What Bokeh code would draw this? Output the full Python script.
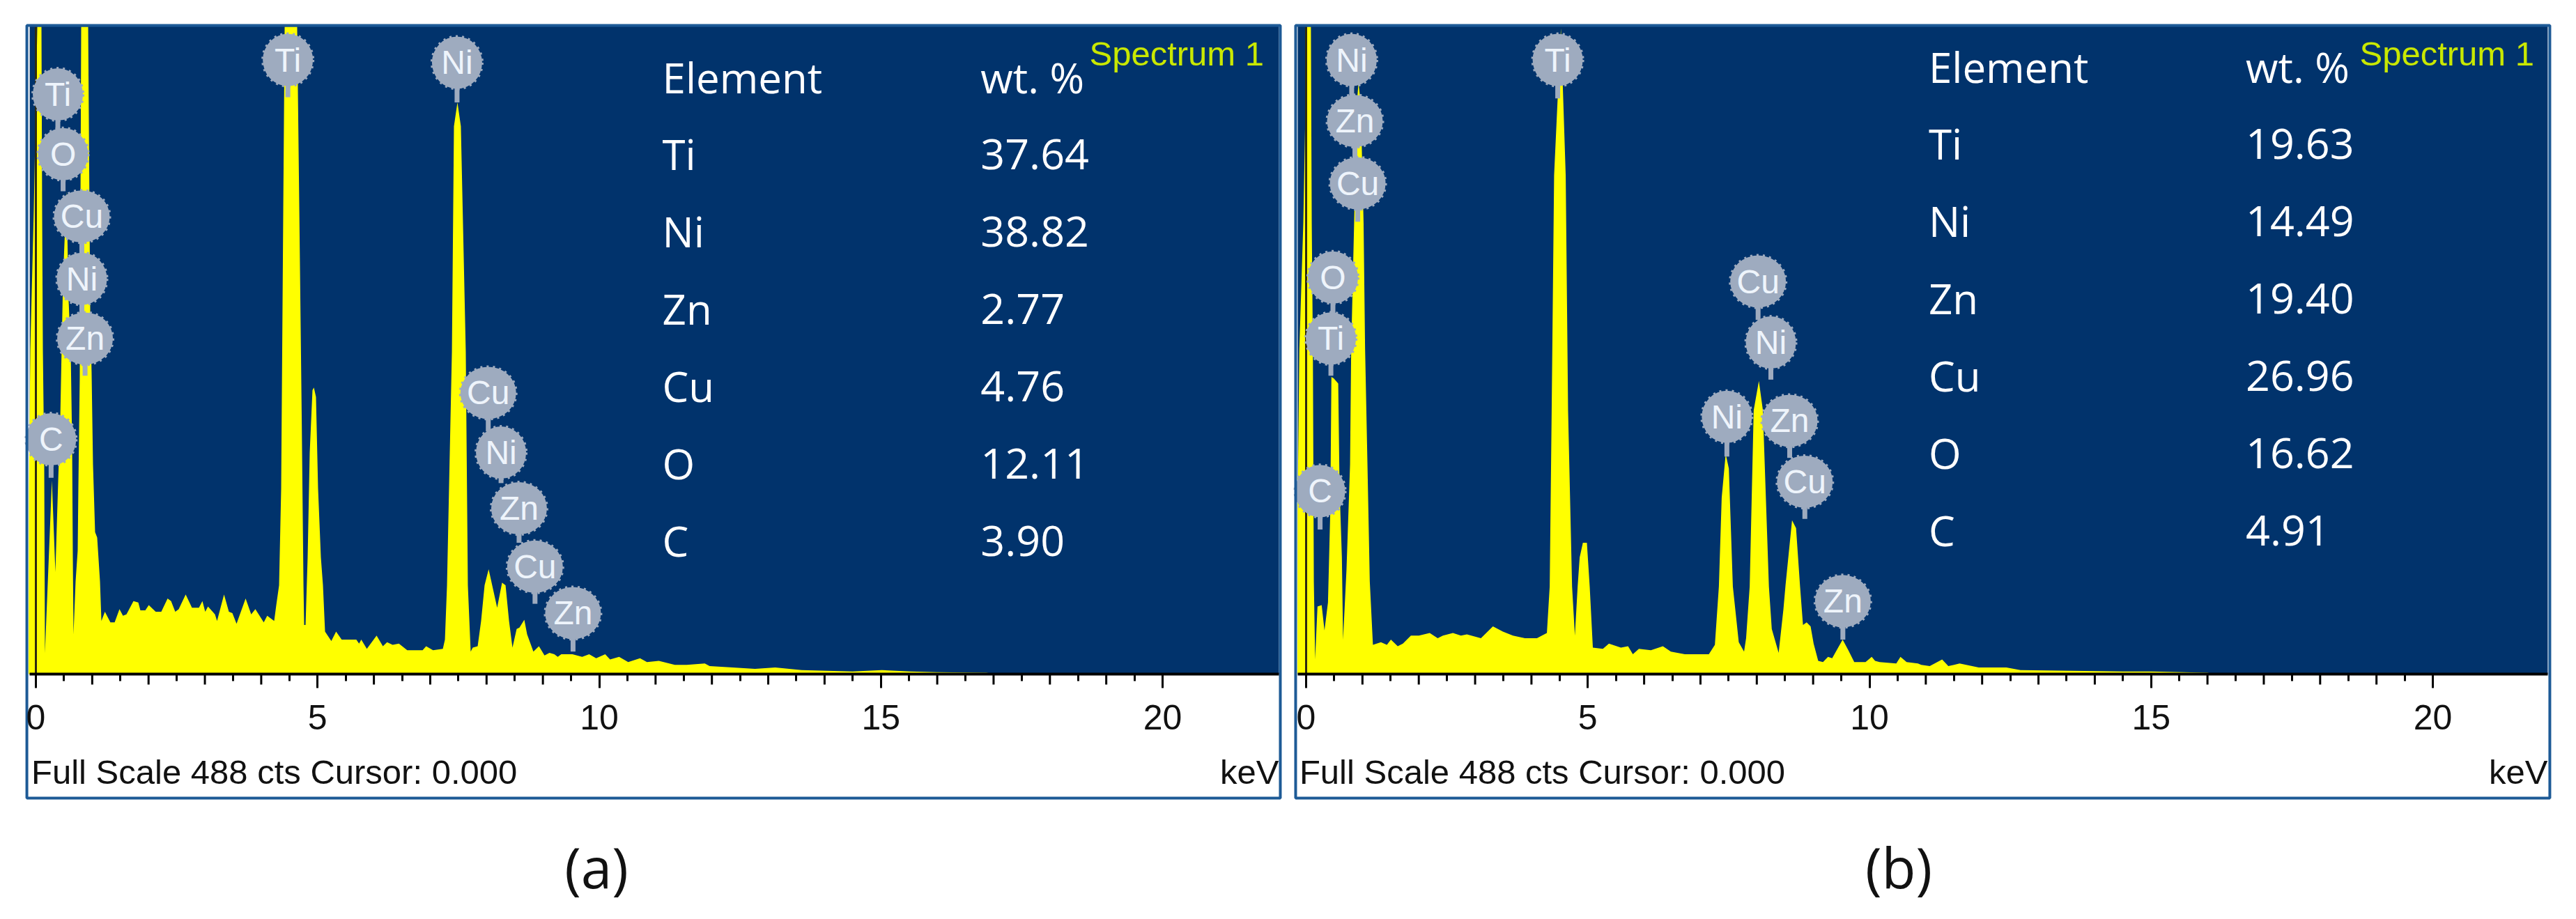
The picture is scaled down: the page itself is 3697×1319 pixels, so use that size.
from bokeh.plotting import figure
from bokeh.layouts import row
from bokeh.models import Range1d, LinearAxis, FixedTicker
from bokeh.core.properties import value
from bokeh.embed import file_html
from bokeh.resources import INLINE

# ---- data: spectrum (a)
A_KEV = [-0.13,-0.124,-0.099,-0.037,0.025,0.062,0.099,0.111,0.124,0.148,0.161,0.284,0.346,0.396,0.433,0.457,0.482,0.544,0.581,0.618,0.643,0.656,0.668,0.705,0.742,0.754,0.779,0.804,0.866,0.928,0.965,0.989,1.014,1.051,1.088,1.138,1.163,1.225,1.323,1.398,1.484,1.546,1.608,1.732,1.818,1.855,1.942,2.004,2.127,2.226,2.338,2.400,2.474,2.536,2.659,2.771,2.894,2.956,3.006,3.055,3.179,3.216,3.340,3.426,3.488,3.562,3.723,3.822,3.896,4.045,4.106,4.230,4.267,4.317,4.354,4.391,4.416,4.527,4.638,4.719,4.750,4.762,4.787,4.824,4.861,4.910,4.935,4.972,5.009,5.059,5.096,5.133,5.244,5.329,5.428,5.688,5.737,5.776,5.875,6.048,6.160,6.234,6.333,6.444,6.592,6.865,6.927,7.050,7.224,7.261,7.298,7.360,7.385,7.421,7.483,7.544,7.631,7.668,7.718,7.755,7.842,7.903,7.965,8.037,8.188,8.275,8.337,8.399,8.460,8.534,8.584,8.670,8.720,8.831,8.930,9.029,9.116,9.203,9.264,9.326,9.524,9.697,9.821,9.945,10.106,10.192,10.353,10.514,10.724,10.848,11.058,11.342,11.553,11.874,11.961,12.369,12.765,13.124,13.594,14.497,15.016,15.523,15.994,16.871,17.03,22.04]
A_CTS = [0,140,245,350,488,560,488,350,245,158,16,146,77,146,193,245,298,364,282,245,175,88,30,70,93,140,224,488,560,488,272,228,158,107,103,70,40,47,39,39,49,44,45,55,54,48,48,52,47,47,57,55,47,49,60,50,50,55,47,51,45,40,60,47,46,38,57,45,49,39,44,40,52,67,140,350,488,560,488,193,67,37,37,88,167,214,216,209,140,88,67,32,25,32,26,26,23,26,19,29,21,24,22,23,18,18,21,18,19,26,67,193,243,413,431,413,243,67,17,20,21,40,67,79,50,69,67,40,20,34,35,41,30,17,21,14,16,15,13,15,15,13,15,12,15,11,13,9,12,9,10,7,7,8,6,5,4,5,3,2,3,2,1.5,1,0,0]

# ---- data: spectrum (b)
B_KEV = [-0.155,-0.15,-0.12,-0.05,0.015,0.05,0.085,0.10,0.12,0.137,0.16,0.202,0.276,0.326,0.388,0.429,0.449,0.49,0.57,0.594,0.635,0.656,0.717,0.78,0.80,0.852,0.90,0.93,0.97,1.02,1.047,1.089,1.13,1.186,1.328,1.434,1.505,1.626,1.718,1.860,2.002,2.194,2.336,2.428,2.606,2.748,2.854,3.103,3.316,3.493,3.671,3.884,4.097,4.274,4.324,4.359,4.402,4.523,4.608,4.650,4.721,4.771,4.82,4.856,4.913,4.984,5.034,5.09,5.268,5.375,5.588,5.715,5.800,5.907,6.12,6.333,6.475,6.723,7.149,7.256,7.327,7.377,7.448,7.504,7.575,7.68,7.774,7.81,7.874,7.945,8.037,8.108,8.215,8.266,8.388,8.473,8.51,8.626,8.697,8.768,8.82,8.885,8.955,9.009,9.09,9.175,9.264,9.338,9.524,9.625,9.73,9.93,10.04,10.10,10.18,10.476,10.55,10.66,10.86,10.92,11.07,11.29,11.40,11.50,11.60,11.94,12.34,12.43,12.68,14.5,15,16,16.1,22.03]
B_CTS = [0,130,245,340,488,560,488,340,245,70,11,51,52,33,54,123,224,223,219,140,88,26,79,158,245,340,430,446,430,340,245,158,70,22,24,22,26,21,23,29,29,31,27,29,31,29,30,27,36,32,29,27,27,31,66,199,376,487,376,199,66,29,66,88,99,99,66,20,19,23,20,21,15,19,18,21,17,15,15,22,66,133,166,155,66,24,17,27,66,199,221,199,66,34,16,49,67,116,110,66,37,39,36,23,10,9,13,12,26,18,9,9,13,10,9,8,13,9,8,7,6,11,6,7,8,5,5,5,3,2,2,1,0,0]

# ---- data: peak markers
A_PEAK_NAMES = ["Ti","O","Cu","Ni","Zn","C","Ti","Ni","Cu","Ni","Zn","Cu","Zn"]
A_PEAK_KEV   = [0.39,0.483,0.816,0.816,0.873,0.27,4.473,7.476,8.03,8.257,8.577,8.86,9.535]
A_PEAK_CTS   = [437,392,345,298,253,177,463,461,212,167,125,81,46]
A_STEM_CTS   = [392,364,298,253,225,148,435,431,183,144,99,53,17]

B_PEAK_NAMES = ["Ni","Zn","Cu","O","Ti","C","Ti","Cu","Ni","Ni","Zn","Cu","Zn"]
B_PEAK_KEV   = [0.809,0.866,0.916,0.476,0.44,0.248,4.466,8.023,8.25,7.469,8.584,8.853,9.528]
B_PEAK_CTS   = [463,417,370,299,253,138,463,296,250,194,191,145,55]
B_STEM_CTS   = [417,370,341,272,225,109,434,267,222,164,163,117,26]

# ---- data: tables and ticks
ELEMENTS = ["Ti","Ni","Zn","Cu","O","C"]
A_WT = ["37.64","38.82","2.77","4.76","12.11","3.90"]
B_WT = ["19.63","14.49","19.40","26.96","16.62","4.91"]
MAJOR_TICKS = [0,5,10,15,20]
MID_TICKS = [1,2,3,4,6,7,8,9,11,12,13,14,16,17,18,19]
MINOR_TICKS = [i*0.5 for i in range(1,40,2)]

BG="#01336c"; YEL="#ffff00"; GREY="#9eabbf"; EDGE="#1d5a96"
FULL_SCALE=488
PX_PER_KEV=80.85
CTS_PER_PX=FULL_SCALE/929
ARIAL="Liberation Sans"; TAB="Open Sans"
H=1311

def panel(keV,cts,names,pk,pc,sc,wt,x0_px,fig_left,width,blue,box,tab_x,head_y,row_y,caption,cap_x):
    # figure frame spans the whole canvas; everything sits on the keV / cts scales
    xr=((fig_left-x0_px)/PX_PER_KEV,(fig_left+width-x0_px)/PX_PER_KEV)
    p=figure(width=width,height=H,output_backend="svg",toolbar_location=None,
             x_range=Range1d(*xr),y_range=Range1d((967-H)*CTS_PER_PX,967*CTS_PER_PX),
             x_axis_location=None,y_axis_location=None,
             min_border_left=0,min_border_right=0,min_border_top=0,min_border_bottom=0,
             background_fill_color="white",border_fill_color="white",outline_line_color=None)
    p.xgrid.visible=False; p.ygrid.visible=False
    p.quad(left=[blue[0]],right=[blue[1]],bottom=[0],top=[FULL_SCALE+1],fill_color=BG,line_color=None)
    p.varea(x=keV,y1=[0]*len(keV),y2=[min(c,FULL_SCALE) for c in cts],fill_color=YEL)
    p.segment(x0=[0],y0=[0],x1=[0],y1=[FULL_SCALE],line_color="#2e2a10",line_width=3)
    ax=LinearAxis(ticker=FixedTicker(ticks=MAJOR_TICKS,minor_ticks=MINOR_TICKS),fixed_location=0,bounds=blue)
    ax.axis_line_color="black"; ax.axis_line_width=4
    ax.major_tick_line_color="black"; ax.major_tick_line_width=3; ax.major_tick_in=0; ax.major_tick_out=20
    ax.minor_tick_line_color="black"; ax.minor_tick_line_width=3; ax.minor_tick_in=0; ax.minor_tick_out=10
    ax.major_label_text_font=ARIAL; ax.major_label_text_font_size="50px"; ax.major_label_text_color="#111111"
    ax.major_label_standoff=24
    p.add_layout(ax,"below")
    p.segment(x0=MID_TICKS,y0=[0]*len(MID_TICKS),x1=MID_TICKS,y1=[-15*CTS_PER_PX]*len(MID_TICKS),line_color="black",line_width=3)
    # peak markers: stems, scalloped discs, names
    p.segment(x0=pk,y0=pc,x1=pk,y1=sc,line_color=GREY,line_width=7)
    widths=[80 if n in ("Cu","Zn") else 72 for n in names]
    p.ellipse(x=pk,y=pc,width=widths,height=[75]*len(pk),width_units="screen",height_units="screen",
              fill_color=GREY,line_color=GREY,line_width=4,line_dash="3 6")
    p.text(x=pk,y=pc,text=names,text_font=value(ARIAL),text_font_size=value("48px"),text_color="#eef4fb",
           text_align="center",text_baseline="middle")
    # table
    step=111*CTS_PER_PX
    ys=[row_y-i*step for i in range(len(ELEMENTS))]
    p.text(x=[tab_x[0]]*6,y=ys,text=ELEMENTS,text_font=value(TAB),text_font_size=value("60px"),text_color="white",text_baseline="middle")
    p.text(x=[tab_x[1]]*6,y=ys,text=wt,text_font=value(TAB),text_font_size=value("61px"),text_color="white",text_baseline="middle")
    p.text(x=[tab_x[0],tab_x[1]],y=[head_y]*2,text=["Element","wt. %"],text_font=value(TAB),text_font_size=value("60px"),text_color="white",text_baseline="middle")
    p.text(x=[21.8],y=[468],text=["Spectrum 1"],text_font=value(ARIAL),text_font_size=value("49px"),text_color="#c9e800",text_align="right",text_baseline="middle")
    # panel frame, footer, caption
    p.quad(left=[box[0]],right=[box[1]],bottom=[(967-1145)*CTS_PER_PX],top=[(967-36)*CTS_PER_PX],fill_color=None,line_color=EDGE,line_width=4)
    foot=-140*CTS_PER_PX
    p.text(x=[blue[0]+0.03],y=[foot],text=["Full Scale 488 cts Cursor: 0.000"],text_font=value(ARIAL),text_font_size=value("49px"),text_color="#111111",text_baseline="middle")
    p.text(x=[blue[1]],y=[foot],text=["keV"],text_font=value(ARIAL),text_font_size=value("49px"),text_color="#111111",text_align="right",text_baseline="middle")
    p.text(x=[cap_x],y=[-276*CTS_PER_PX],text=[caption],text_font=value(TAB),text_font_size=value("80px"),text_color="#111111",text_align="center",text_baseline="middle")
    return p

pa=panel(A_KEV,A_CTS,A_PEAK_NAMES,A_PEAK_KEV,A_PEAK_CTS,A_STEM_CTS,A_WT,51,0,1848,(-0.11,22.065),(-0.16,22.09),
         (11.12,16.77),450,391.9,"(a)",9.95)
pb=panel(B_KEV,B_CTS,B_PEAK_NAMES,B_PEAK_KEV,B_PEAK_CTS,B_STEM_CTS,B_WT,1874,1848,1842,(-0.149,22.04),(-0.186,22.077),
         (11.05,16.68),458,399.8,"(b)",10.52)
layout=row(pa,pb)
open("out.html","w").write(file_html(layout,INLINE))
